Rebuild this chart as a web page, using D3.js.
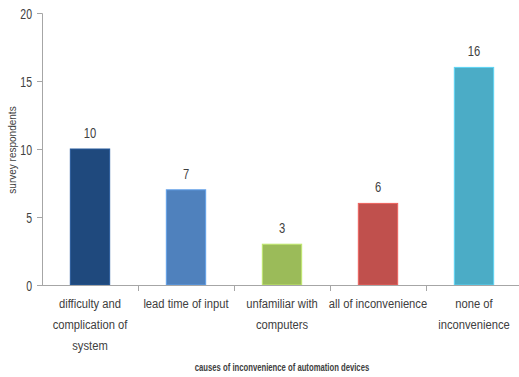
<!DOCTYPE html>
<html>
<head>
<meta charset="utf-8">
<script src="https://cdn.jsdelivr.net/npm/d3@7"></script>
<style>
  html, body { margin: 0; padding: 0; background: #fff; }
  svg text { font-family: "Liberation Sans", Arial, sans-serif; fill: #404040; }
</style>
</head>
<body>
<svg id="chart" width="519" height="377"></svg>
<script>
// Survey: causes of inconvenience when using automation devices
const categories = [
  ["difficulty and", "complication of", "system"],
  ["lead time of input"],
  ["unfamiliar with", "computers"],
  ["all of inconvenience"],
  ["none of", "inconvenience"]
];
const respondents = [10, 7, 3, 6, 16];
const barColors = ["#1F497D", "#4F81BD", "#9BBB59", "#C0504D", "#4BACC6"];
const yTicks = [0, 5, 10, 15, 20];

const svg = d3.select("#chart");
const margin = { left: 42, top: 13, right: -3 };
const W = 519;
const plotBottom = 285;

// condensed text: place at (px, py) and narrow the glyphs horizontally
function narrowText(parent, px, py, k) {
  return parent.append("text")
    .attr("transform", `translate(${px},${py}) scale(${k},1)`);
}

const keys = categories.map((c, i) => i);
const x = d3.scaleBand().domain(keys).range([margin.left, W - margin.right]).paddingInner(0.59).paddingOuter(0.295);
const xCat = d3.scaleBand().domain(keys).range([margin.left, W - margin.right]);
const y = d3.scaleLinear().domain([0, 20]).range([plotBottom, margin.top]);

// bars
svg.append("g").selectAll("rect").data(respondents).join("rect")
  .attr("x", (d, i) => x(i))
  .attr("y", d => y(d))
  .attr("width", x.bandwidth())
  .attr("height", d => y(0) - y(d))
  .attr("fill", (d, i) => barColors[i])
  .attr("stroke", (d, i) => d3.color(barColors[i]).brighter(0.6))
  .attr("stroke-width", 1);

// value labels
const valG = svg.append("g");
respondents.forEach((v, i) => {
  narrowText(valG, x(i) + x.bandwidth() / 2, y(v) - 11, 0.8)
    .attr("text-anchor", "middle")
    .attr("font-size", 14)
    .text(v);
});

// y axis
const yAxis = svg.append("g").attr("transform", `translate(${margin.left},0)`)
  .call(d3.axisLeft(y).tickValues(yTicks).tickSize(5).tickPadding(5));
yAxis.select(".domain").attr("stroke", "#a6a6a6");
yAxis.selectAll(".tick line").attr("stroke", "#a6a6a6");
yAxis.selectAll(".tick text")
  .attr("font-size", 15).attr("fill", "#404040").attr("font-family", null)
  .attr("x", null).attr("dy", null)
  .attr("transform", "translate(-10,5.3) scale(0.7,1)");

// x axis
const xAxis = svg.append("g").attr("transform", `translate(0,${plotBottom})`);
xAxis.append("line").attr("x1", margin.left).attr("x2", W).attr("y1", 0.5).attr("y2", 0.5).attr("stroke", "#a6a6a6");
xAxis.selectAll("line.tick").data(keys.slice(1)).join("line").attr("class", "tick")
  .attr("x1", d => Math.round(xCat(d)) + 0.5).attr("x2", d => Math.round(xCat(d)) + 0.5)
  .attr("y1", 0).attr("y2", 6).attr("stroke", "#a6a6a6");

// category labels, one text per line
const catG = svg.append("g");
categories.forEach((linesOf, i) => {
  linesOf.forEach((t, j) => {
    narrowText(catG, xCat(i) + xCat.bandwidth() / 2, 308 + j * 21, 0.83)
      .attr("text-anchor", "middle")
      .attr("font-size", 13.5)
      .text(t);
  });
});

// axis titles
svg.append("text")
  .attr("transform", "translate(16,150) rotate(-90)")
  .attr("text-anchor", "middle")
  .attr("font-size", 10)
  .attr("font-family", "'DejaVu Sans', sans-serif")
  .attr("fill", "#000")
  .text("survey respondents");

narrowText(svg, 282, 371, 0.7)
  .attr("text-anchor", "middle")
  .attr("font-size", 11)
  .attr("font-weight", "bold")
  .attr("fill", "#000")
  .text("causes of inconvenience of automation devices");
</script>
</body>
</html>
